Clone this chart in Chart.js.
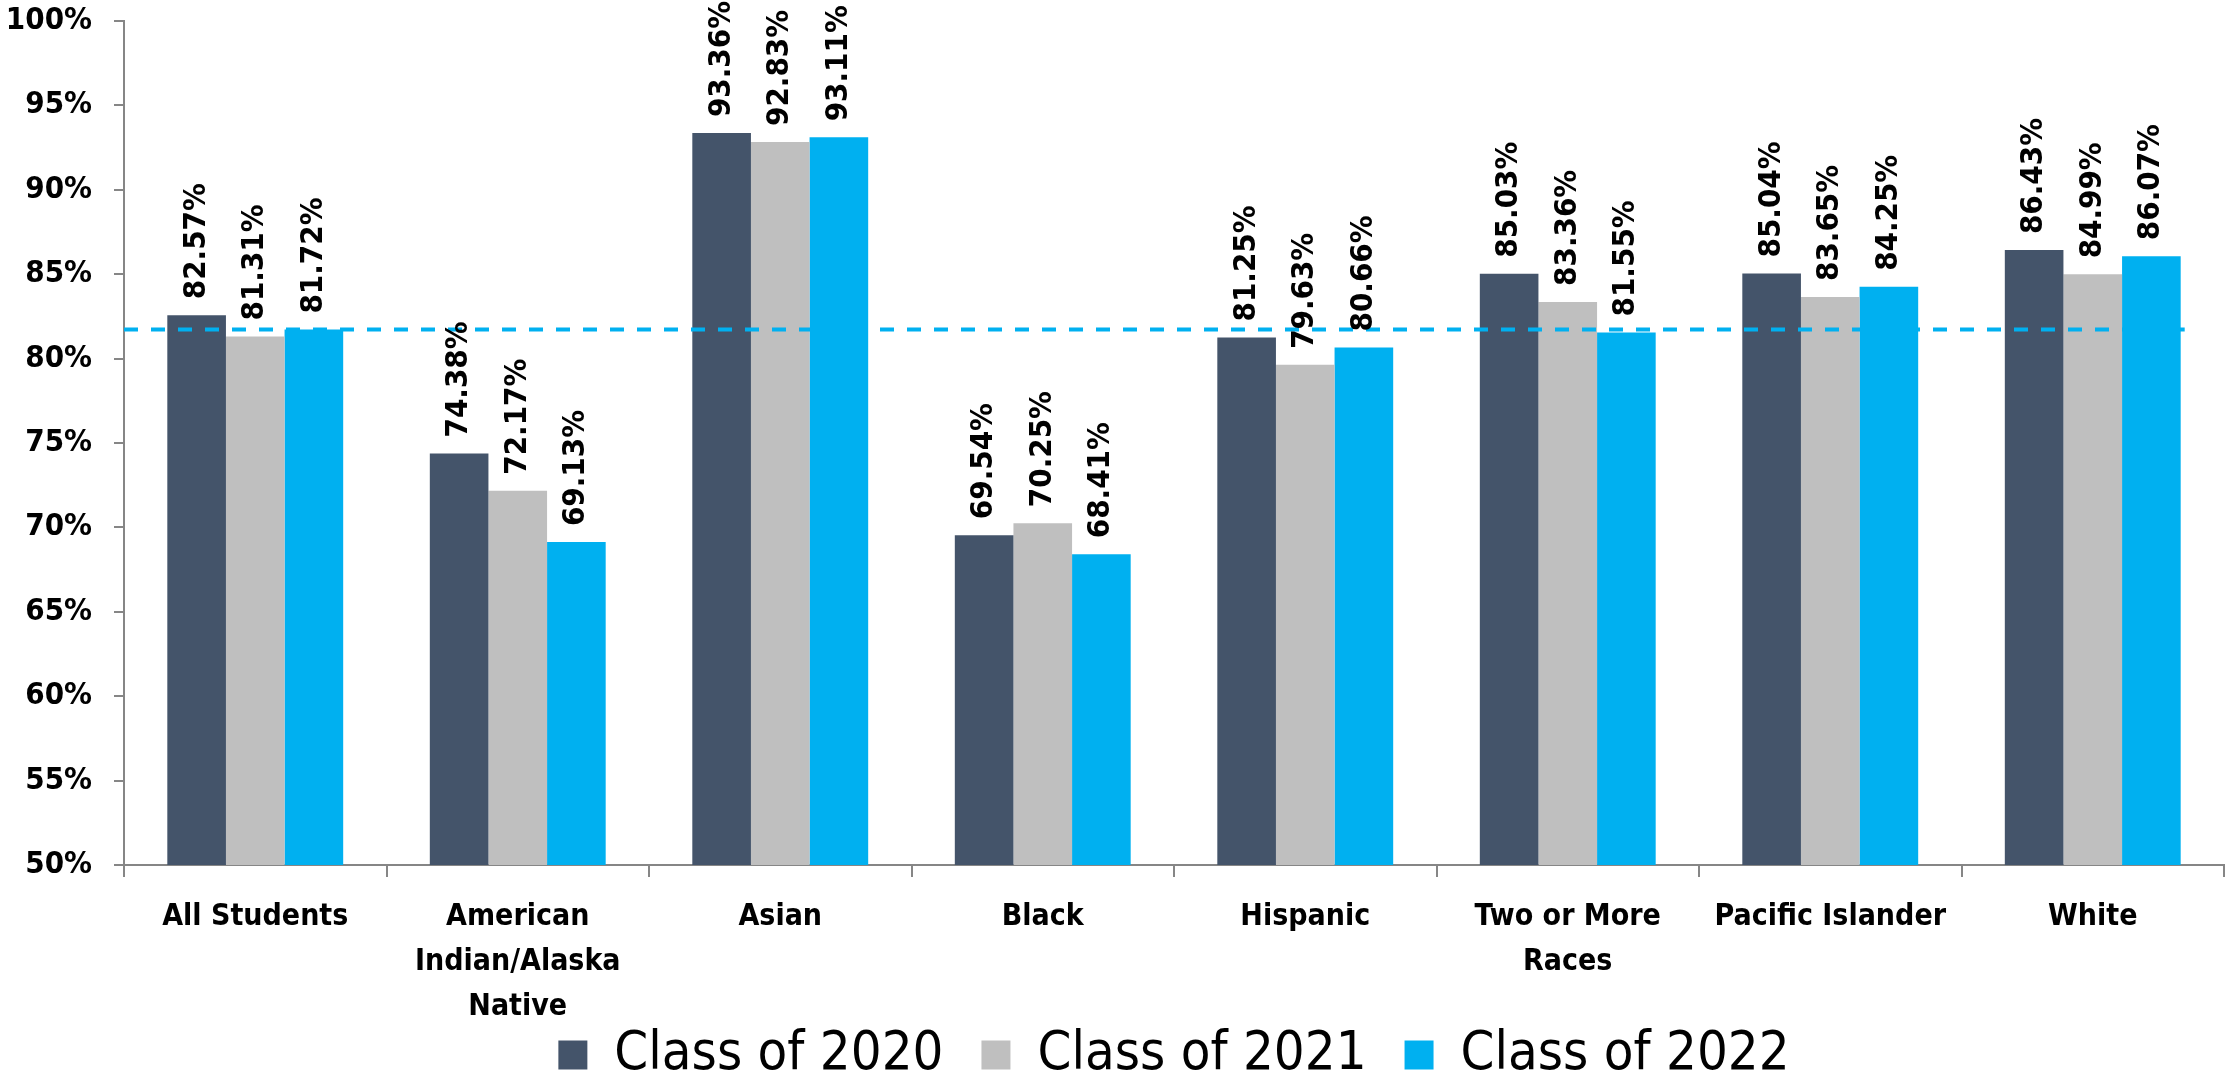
<!DOCTYPE html>
<html>
<head>
<meta charset="utf-8">
<title>Graduation Rate by Student Group</title>
<script src="https://cdn.jsdelivr.net/npm/chart.js@4.4.0/dist/chart.umd.min.js"></script>
<style>
	html, body { margin: 0; padding: 0; background: #fff; }
	#wrap { position: relative; width: 2228px; height: 1078px; }
</style>
</head>
<body>
<div id="wrap"><canvas id="bar-chart"></canvas></div>
<script>
// Data
var categories = [
	"All Students",
	["American", "Indian/Alaska", "Native"],
	"Asian",
	"Black",
	"Hispanic",
	["Two or More", "Races"],
	"Pacific Islander",
	"White",
];
var seriesNames = ["Class of 2020", "Class of 2021", "Class of 2022"];
var class2020 = [82.57, 74.38, 93.36, 69.54, 81.25, 85.03, 85.04, 86.43];
var class2021 = [81.31, 72.17, 92.83, 70.25, 79.63, 83.36, 83.65, 84.99];
var class2022 = [81.72, 69.13, 93.11, 68.41, 80.66, 81.55, 84.25, 86.07];
var yTickValues = [50, 55, 60, 65, 70, 75, 80, 85, 90, 95, 100];
var referenceValue = 81.72; // All Students, Class of 2022

var fontFamily = '"DejaVu Sans Condensed", "DejaVu Sans", sans-serif';
var axisColor = "#868686";

// Dashed reference line + rotated value labels above every bar
var barLabels = {
	id: "barLabels",
	afterDatasetsDraw: function (chart) {
		var ctx = chart.ctx;
		var yScale = chart.scales.y;
		var lastMeta = chart.getDatasetMeta(chart.data.datasets.length - 1);
		var lastBar = lastMeta.data[lastMeta.data.length - 1];
		var yLine = yScale.getPixelForValue(referenceValue);
		ctx.save();
		ctx.strokeStyle = "#00B0F0";
		ctx.lineWidth = 4;
		ctx.setLineDash([14, 13]);
		ctx.beginPath();
		ctx.moveTo(chart.chartArea.left, yLine);
		ctx.lineTo(lastBar.x + lastBar.width / 2 + 4, yLine);
		ctx.stroke();
		ctx.restore();

		ctx.save();
		ctx.font = "bold 31px " + fontFamily;
		ctx.fillStyle = "#000";
		ctx.textAlign = "left";
		ctx.textBaseline = "middle";
		chart.data.datasets.forEach(function (ds, i) {
			var meta = chart.getDatasetMeta(i);
			meta.data.forEach(function (bar, j) {
				ctx.save();
				ctx.translate(bar.x, bar.y - 16);
				ctx.rotate(-Math.PI / 2);
				ctx.fillText(ds.data[j].toFixed(2) + "%", 0, 0);
				ctx.restore();
			});
		});
		ctx.restore();
	},
};

var ctx = document.getElementById("bar-chart").getContext("2d");
var myChart = new Chart(ctx, {
	type: "bar",
	data: {
		labels: categories,
		datasets: [
			{ label: seriesNames[0], backgroundColor: "#44546A", data: class2020 },
			{ label: seriesNames[1], backgroundColor: "#BFBFBF", data: class2021 },
			{ label: seriesNames[2], backgroundColor: "#00B0F0", data: class2022 },
		],
	},
	options: {
		responsive: true,
		maintainAspectRatio: false,
		animation: false,
		layout: { padding: { top: 21, right: 4, left: 0, bottom: -14 } },
		datasets: {
			bar: { categoryPercentage: 0.67, barPercentage: 1.0 },
		},
		plugins: {
			tooltip: { enabled: false },
			legend: {
				position: "bottom",
				fullSize: false,
				labels: {
					boxWidth: 29,
					boxHeight: 29,
					padding: 38,
					color: "#000",
					font: { family: fontFamily, size: 54 },
				},
			},
		},
		scales: {
			x: {
				grid: {
					drawOnChartArea: false,
					tickLength: 12,
					color: axisColor,
					lineWidth: 2,
				},
				border: { color: axisColor, width: 2 },
				ticks: {
					color: "#000",
					maxRotation: 0,
					autoSkip: false,
					padding: 18,
					font: { family: fontFamily, size: 30, weight: "bold", lineHeight: 1.5 },
				},
				afterFit: function (scale) {
					// legend sits under the third label line, so keep the box short
					// and let the labels draw past it
					scale.height = 125;
					scale._computeLabelArea = function () {};
				},
			},
			y: {
				min: yTickValues[0],
				max: yTickValues[yTickValues.length - 1],
				afterBuildTicks: function (scale) {
					scale.ticks = yTickValues.map(function (v) { return { value: v }; });
				},
				grid: {
					drawOnChartArea: false,
					tickLength: 10,
					color: axisColor,
					lineWidth: 2,
				},
				border: { color: axisColor, width: 2 },
				ticks: {
					color: "#000",
					padding: 22,
					font: { family: fontFamily, size: 31, weight: "bold" },
					callback: function (v) { return v + "%"; },
				},
				afterFit: function (scale) {
					scale.width = 124;
					scale.paddingTop = 0;
					scale.paddingBottom = 0;
				},
			},
		},
	},
	plugins: [barLabels],
});
</script>
</body>
</html>
